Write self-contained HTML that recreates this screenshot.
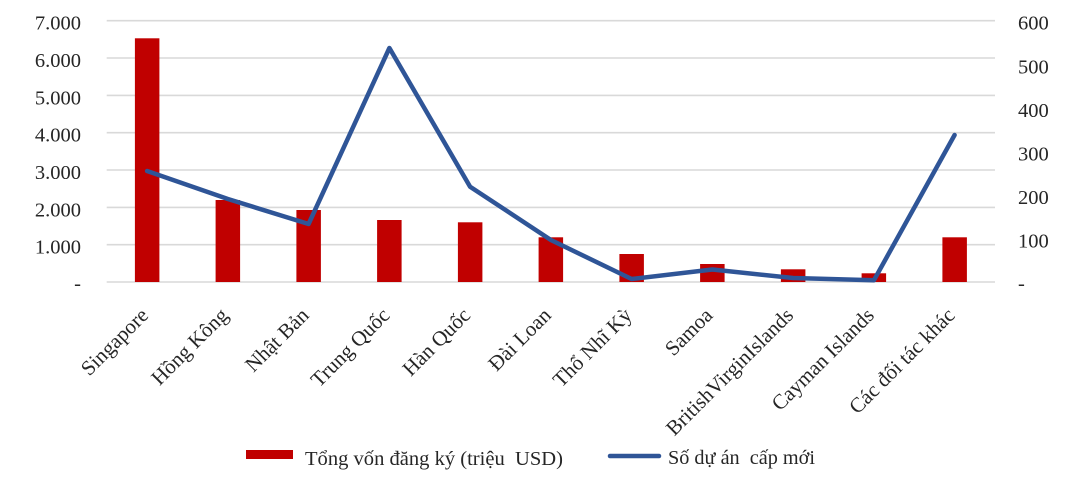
<!DOCTYPE html>
<html><head><meta charset="utf-8"><style>
html,body{margin:0;padding:0;background:#fff;}
svg{display:block;}
text{font-family:"Liberation Serif","Times New Roman",serif;fill:#262626;}
</style></head><body>
<svg width="1065" height="483" viewBox="0 0 1065 483" xmlns="http://www.w3.org/2000/svg">
<g stroke="#d9d9d9" stroke-width="1.6">
<line x1="106.7" y1="20.7" x2="995" y2="20.7"/>
<line x1="106.7" y1="58" x2="995" y2="58"/>
<line x1="106.7" y1="95.4" x2="995" y2="95.4"/>
<line x1="106.7" y1="132.7" x2="995" y2="132.7"/>
<line x1="106.7" y1="170" x2="995" y2="170"/>
<line x1="106.7" y1="207.4" x2="995" y2="207.4"/>
<line x1="106.7" y1="244.7" x2="995" y2="244.7"/>
<line x1="106.7" y1="282" x2="995" y2="282"/>
</g>
<g fill="#c00000">
<rect x="134.9" y="38.3" width="24.5" height="243.7"/>
<rect x="215.6" y="200" width="24.5" height="82"/>
<rect x="296.4" y="210" width="24.5" height="72"/>
<rect x="377.1" y="220" width="24.5" height="62"/>
<rect x="457.9" y="222.3" width="24.5" height="59.7"/>
<rect x="538.6" y="237.3" width="24.5" height="44.7"/>
<rect x="619.4" y="254" width="24.5" height="28"/>
<rect x="700.1" y="264" width="24.5" height="18"/>
<rect x="780.9" y="269.3" width="24.5" height="12.7"/>
<rect x="861.6" y="273.3" width="24.5" height="8.7"/>
<rect x="942.4" y="237.3" width="24.5" height="44.7"/>
</g>
<polyline fill="none" stroke="#2f5597" stroke-width="4.5" stroke-linejoin="round" stroke-linecap="round"
points="147.1,171 227.9,199 308.6,224 389.4,48 470.1,186.7 550.9,240 631.6,279 712.4,269.5 793.1,278 873.9,280.3 954.6,135"/>
<g font-size="20.5" text-anchor="end">
<text x="81" y="29.7">7.000</text>
<text x="81" y="67">6.000</text>
<text x="81" y="104.4">5.000</text>
<text x="81" y="141.7">4.000</text>
<text x="81" y="179">3.000</text>
<text x="81" y="216.4">2.000</text>
<text x="81" y="253.7">1.000</text>
<text x="81" y="290">-</text>
</g>
<g font-size="20.5" text-anchor="start">
<text x="1018" y="29.7">600</text>
<text x="1018" y="73.3">500</text>
<text x="1018" y="116.8">400</text>
<text x="1018" y="160.4">300</text>
<text x="1018" y="203.9">200</text>
<text x="1018" y="247.5">100</text>
<text x="1018" y="290">-</text>
</g>
<g font-size="21" text-anchor="end">
<text transform="translate(149.5,316.5) rotate(-45)">Singapore</text>
<text transform="translate(229.3,316.5) rotate(-45)">Hồng Kông</text>
<text transform="translate(310,316.5) rotate(-45)">Nhật Bản</text>
<text transform="translate(390.8,316.5) rotate(-45)">Trung Quốc</text>
<text transform="translate(471.5,316.5) rotate(-45)">Hàn Quốc</text>
<text transform="translate(552.3,316.5) rotate(-45)">Đài Loan</text>
<text transform="translate(633,316.5) rotate(-45)">Thổ Nhĩ Kỳ</text>
<text transform="translate(713.8,316.5) rotate(-45)">Samoa</text>
<text transform="translate(794.5,316.5) rotate(-45)">BritishVirginIslands</text>
<text transform="translate(875.3,316.5) rotate(-45)">Cayman Islands</text>
<text transform="translate(956,316.5) rotate(-45)">Các đối tác khác</text>
</g>
<rect x="246" y="450" width="47" height="9" fill="#c00000"/>
<text x="305" y="465" font-size="20.5" textLength="258" lengthAdjust="spacingAndGlyphs" xml:space="preserve">Tổng vốn đăng ký (triệu  USD)</text>
<line x1="610" y1="456" x2="659" y2="456" stroke="#2f5597" stroke-width="4.5" stroke-linecap="round"/>
<text x="668" y="464" font-size="20.5" textLength="147" lengthAdjust="spacingAndGlyphs" xml:space="preserve">Số dự án  cấp mới</text>
</svg>
</body></html>
